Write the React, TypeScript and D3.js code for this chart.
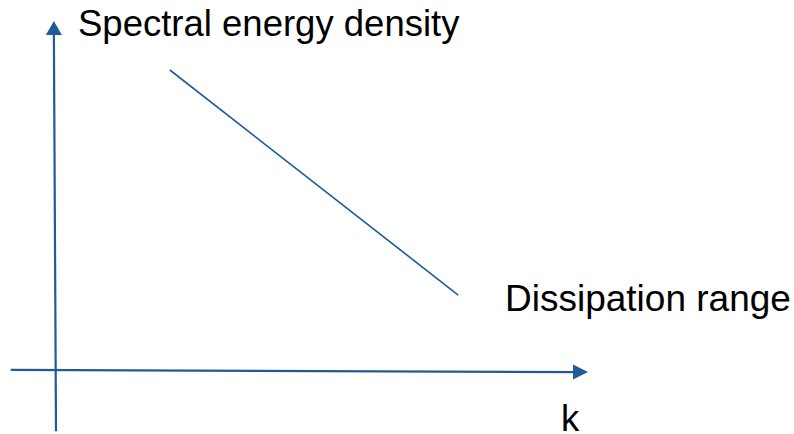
import React from "react";
import * as d3 from "d3";

// Conceptual spectrum (arbitrary units)
const spectrumK = [21.4, 75.6];
const spectrumE = [86.0, 21.7];

// Axes extents (arbitrary units)
const xAxisK = [-8.5, 100];
const xAxisE = [0.3, -0.3];
const yAxisK = [0, -0.4];
const yAxisE = [-17.2, 100];

const labels = ["Spectral energy density", "Dissipation range", "k"];

const W = 794;
const H = 434;
const COLOR = "#1F5B97";

export default function App() {
  const x = d3.scaleLinear().domain([0, 100]).range([56, 588]);
  const y = d3.scaleLinear().domain([0, 100]).range([371, 21]);

  const line = d3
    .line<[number, number]>()
    .x((d) => x(d[0]))
    .y((d) => y(d[1]));

  const spec: [number, number][] = spectrumK.map((k, i) => [k, spectrumE[i]]);
  const xa: [number, number][] = xAxisK.map((k, i) => [k, xAxisE[i]]);
  const ya: [number, number][] = yAxisK.map((k, i) => [k, yAxisE[i]]);

  // arrowheads
  const xTip = [x(xAxisK[1]), y(xAxisE[1])];
  const yTip = [x(yAxisK[1]), y(yAxisE[1])];
  const xHead = `M${xTip[0]},${xTip[1]} L${xTip[0] - 15},${xTip[1] - 7.5} L${xTip[0] - 15},${xTip[1] + 7.5} Z`;
  const yHead = `M${yTip[0]},${yTip[1]} L${yTip[0] - 8},${yTip[1] + 14} L${yTip[0] + 8},${yTip[1] + 14} Z`;

  const xaLine: [number, number][] = [xa[0], [xAxisK[1] - 2, xAxisE[1]]];
  const yaLine: [number, number][] = [ya[0], [yAxisK[1], yAxisE[1] - 3]];

  return (
    <svg
      width={W}
      height={H}
      style={{ position: "absolute", left: 0, top: 0, background: "#fff" }}
      fontFamily="'Liberation Sans', Arial, sans-serif"
    >
      <path d={line(xaLine) || ""} stroke={COLOR} strokeWidth={2.2} fill="none" />
      <path d={xHead} fill={COLOR} />
      <path d={line(yaLine) || ""} stroke={COLOR} strokeWidth={2.2} fill="none" />
      <path d={yHead} fill={COLOR} />
      <path d={line(spec) || ""} stroke={COLOR} strokeWidth={1.6} fill="none" />
      <text x={78} y={36} fontSize={36.5} fill="#000">
        {labels[0]}
      </text>
      <text x={505} y={311} fontSize={37} fill="#000">
        {labels[1]}
      </text>
      <text x={561} y={431} fontSize={36.5} fill="#000">
        {labels[2]}
      </text>
    </svg>
  );
}
